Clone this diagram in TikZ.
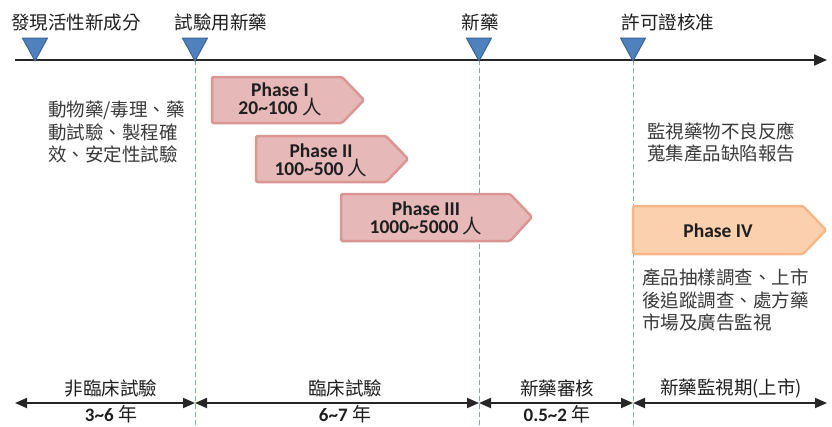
\documentclass[tikz,border=0pt]{standalone}
\usepackage{fontspec}
\setmainfont{Carlito}
\newfontfamily\cjk{Noto Sans CJK TC}
\usetikzlibrary{arrows.meta}
\definecolor{trifill}{HTML}{4F81BD}
\definecolor{triedge}{HTML}{3A6496}
\definecolor{dashc}{HTML}{7EA6D8}
\definecolor{phfill}{HTML}{E6B9B8}
\definecolor{phedge}{HTML}{D99694}
\definecolor{pivfill}{HTML}{FAD0AE}
\definecolor{pivedge}{HTML}{F6B889}
\definecolor{txtgray}{HTML}{3A3A3A}
\definecolor{txtdark}{HTML}{1E1E1E}
\begin{document}
\begin{tikzpicture}[x=1pt,y=-1pt,
  toplabel/.style={font=\cjk\fontsize{18.5}{22}\selectfont, text=txtdark, inner sep=0},
  blocktext/.style={font=\cjk\fontsize{18.5}{22.5}\selectfont, text=txtgray, inner sep=0, align=left, anchor=north west},
  phtext/.style={font=\bfseries\fontsize{19.5}{18}\selectfont, text=txtdark, inner sep=0, align=center},
  numtext/.style={font=\bfseries\fontsize{19}{20}\selectfont, text=txtdark, inner sep=0},
  milestone/.style={fill=trifill, draw=triedge, line width=1pt, line join=round},
  dashline/.style={draw=dashc, line width=1pt, dash pattern=on 5pt off 3pt},
  axisline/.style={draw=black!85, line width=2pt, -{Triangle[length=13pt,width=11pt]}},
  spanline/.style={draw=black!85, line width=1.8pt, {Triangle[length=12pt,width=10pt]}-{Triangle[length=12pt,width=10pt]}},
  phasebox/.style={fill=phfill, draw=phedge, line width=2.5pt, rounded corners=1.5pt, line join=round},
  phaseivbox/.style={fill=pivfill, draw=pivedge, line width=2.5pt, rounded corners=1.5pt, line join=round}
]
\useasboundingbox[fill=white] (0,0) rectangle (832,426);

% main axis and milestones
\coordinate (a0) at (15,60);
\coordinate (a1) at (827,60);
\coordinate (m1) at (35,60);
\coordinate (m2) at (195,60);
\coordinate (m3) at (479,60);
\coordinate (m4) at (633,60);

\draw[dashline] (m2) -- ++(0,366);
\draw[dashline] (m3) -- ++(0,366);
\draw[dashline] (m4) -- ++(0,366);

\draw[axisline] (a0) -- (a1);
\foreach \m in {m1,m2,m3,m4}{
  \draw[milestone] ([shift={(-12.5,-22)}]\m) -- ([shift={(12.5,-22)}]\m) -- ([shift={(0,1)}]\m) -- cycle;
}

\node[toplabel] (l1) at (76,22) {發現活性新成分};
\node[toplabel] (l2) at (221,22) {試驗用新藥};
\node[toplabel] (l3) at (480,22) {新藥};
\node[toplabel] (l4) at (668,22) {許可證核准};

% phases
\draw[phasebox] (212,77) -- (342,77) -- (364,100) -- (342,123) -- (212,123) -- cycle;
\node[phtext] (p1) at (280,99) {Phase I\\20\textasciitilde100 {\cjk\mdseries 人}};

\draw[phasebox] (256,136) -- (386,136) -- (408,159) -- (386,182) -- (256,182) -- cycle;
\node[phtext] (p2) at (321,160) {Phase II\\100\textasciitilde500 {\cjk\mdseries 人}};

\draw[phasebox] (341,194) -- (510,194) -- (532,217) -- (510,241) -- (341,241) -- cycle;
\node[phtext] (p3) at (426,218) {Phase III\\1000\textasciitilde5000 {\cjk\mdseries 人}};

\draw[phaseivbox] (633,206) -- (803,206) -- (826,230) -- (803,254) -- (633,254) -- cycle;
\node[phtext] (p4) at (718,231) {Phase IV};

% descriptive texts
\node[blocktext] (d1) at (48,101) {動物藥/毒理、藥\\動試驗、製程確\\效、安定性試驗};
\node[blocktext] (d2) at (647,122) {監視藥物不良反應\\蒐集產品缺陷報告};
\node[blocktext] (d3) at (642,269) {產品抽樣調查、上市\\後追蹤調查、處方藥\\市場及廣告監視};

% bottom spans
\coordinate (b0) at (15,403);
\coordinate (b1) at (195,403);
\coordinate (b2) at (479,403);
\coordinate (b3) at (633,403);
\coordinate (b4) at (827,403);
\draw[spanline] (b0) -- (b1);
\draw[spanline] (b1) -- (b2);
\draw[spanline] (b2) -- (b3);
\draw[spanline] (b3) -- (b4);

\node[toplabel] (s1) at (111,388) {非臨床試驗};
\node[toplabel] (s2) at (345,388) {臨床試驗};
\node[toplabel] (s3) at (557,388) {新藥審核};
\node[toplabel] (s4) at (731,388) {新藥監視期(上市)};

\node[numtext] (n1) at (111,414) {3\textasciitilde6 {\cjk\mdseries 年}};
\node[numtext] (n2) at (345,414) {6\textasciitilde7 {\cjk\mdseries 年}};
\node[numtext] (n3) at (557,414) {0.5\textasciitilde2 {\cjk\mdseries 年}};
\end{tikzpicture}
\end{document}
